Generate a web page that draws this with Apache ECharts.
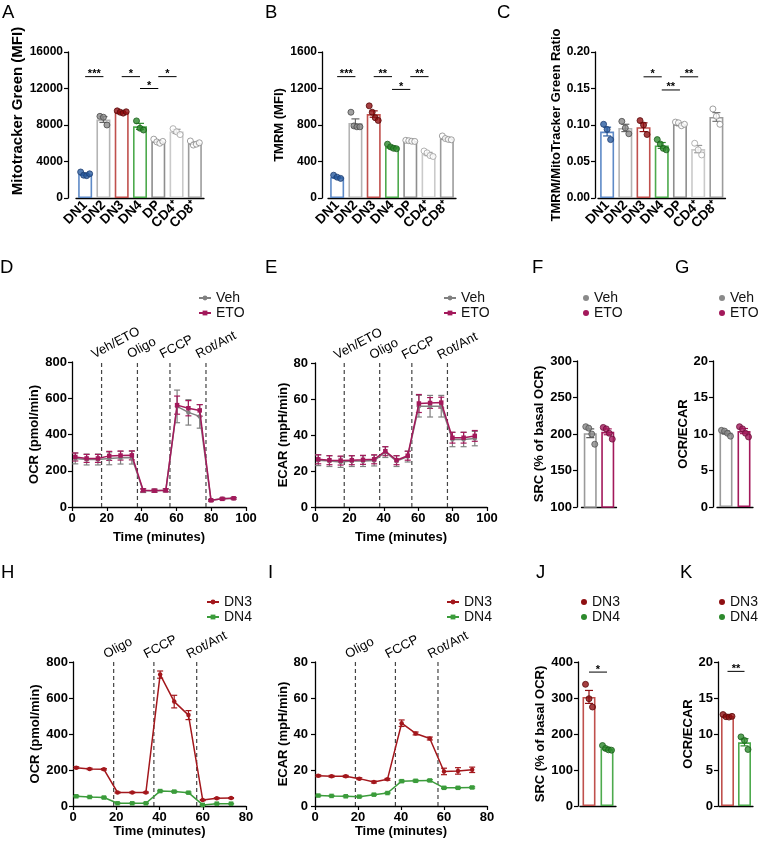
<!DOCTYPE html>
<html>
<head>
<meta charset="utf-8">
<script src="https://cdn.jsdelivr.net/npm/echarts@6/dist/echarts.min.js"></script>
<style>
  html, body { margin: 0; background: #fff; }
  #chart { width: 758px; height: 843px; }
</style>
</head>
<body>
<div id="chart"></div>
<script>
// ---- A-C: thymocyte subsets ----
const subsets = ['DN1', 'DN2', 'DN3', 'DN4', 'DP', 'CD4⁺', 'CD8⁺'];

const mtgMean = [2600, 8600, 9400, 7850, 6200, 7300, 6000];
const mtgSem = [100, 320, 70, 330, 100, 230, 120];
const mtgPts = [[2850, 2500, 2450, 2650], [8950, 8850, 8000], [9550, 9400, 9300, 9450],
  [8450, 7650, 7450], [6450, 6150, 6000, 6200], [7600, 7250, 6950], [6250, 5800, 5900, 6050]];
const mtgSig = [[0, 1, 13300, '***'], [2, 3, 13300, '*'], [3, 4, 12000, '*'], [4, 5, 13300, '*']];

const tmrmMean = [228, 822, 920, 558, 625, 482, 652];
const tmrmSem = [8, 45, 35, 12, 4, 18, 8];
const tmrmPts = [[250, 228, 215], [940, 790, 780, 780], [1010, 940, 880, 850],
  [590, 560, 545, 540], [632, 628, 622, 620], [515, 495, 465, 455], [680, 652, 642, 638]];
const tmrmSig = [[0, 1, 1330, '***'], [2, 3, 1330, '**'], [3, 4, 1190, '*'], [4, 5, 1330, '**']];

const ratioMean = [0.091, 0.096, 0.097, 0.072, 0.101, 0.067, 0.111];
const ratioSem = [0.006, 0.005, 0.006, 0.004, 0.002, 0.005, 0.006];
const ratioPts = [[0.101, 0.094, 0.080], [0.105, 0.096, 0.088], [0.106, 0.100, 0.087],
  [0.080, 0.074, 0.068, 0.066], [0.104, 0.103, 0.099, 0.101], [0.075, 0.066, 0.059], [0.122, 0.112, 0.101]];
const ratioSig = [[2, 3, 0.166, '*'], [3, 4, 0.148, '**'], [4, 5, 0.166, '**']];

// ---- D-G: Veh vs ETO ----
const etoTime = [1.9, 8.4, 14.9, 21.4, 27.9, 34.4, 40.9, 47.4, 53.9, 60.4, 66.9, 73.4, 79.9, 86.4, 92.9];
const etoInject = [17, 37.6, 56.3, 77];
const etoInjectNames = ['Veh/ETO', 'Oligo', 'FCCP', 'Rot/Ant'];
const ocrVeh = [268, 262, 262, 268, 272, 272, 90, 90, 92, 555, 522, 500, 37, 45, 48];
const ocrVehErr = [30, 30, 30, 35, 35, 35, 10, 8, 8, 90, 70, 65, 5, 5, 5];
const ocrEto = [276, 268, 268, 282, 284, 285, 92, 90, 92, 562, 545, 533, 37, 45, 48];
const ocrEtoErr = [22, 22, 22, 25, 25, 25, 8, 8, 8, 50, 42, 32, 4, 4, 4];
const ecarVeh = [26, 25.5, 25, 25.5, 25.5, 25.8, 30.5, 25.5, 28, 56, 56, 56, 37.5, 37.5, 38];
const ecarVehErr = [3, 3, 3, 3, 3, 3, 3, 3, 3, 6, 6, 6, 4, 4, 4];
const ecarEto = [26.5, 26, 25.8, 26, 26.2, 26.5, 31, 26, 28.5, 57.5, 57.8, 58, 38.5, 38.5, 39.5];
const ecarEtoErr = [2.5, 2.5, 2.5, 2.5, 2.5, 2.5, 2.5, 2.5, 2.5, 5, 3, 3, 3, 3, 3];

const vehEto = ['Veh', 'ETO'];
const srcEtoMean = [201, 203];
const srcEtoSem = [6, 4];
const srcEtoPts = [[210, 208, 200, 186], [209, 207, 201, 193]];
const oeEtoMean = [10.2, 10.4];
const oeEtoSem = [0.2, 0.35];
const oeEtoPts = [[10.5, 10.4, 10.1, 9.7], [11.0, 10.7, 10.1, 9.6]];

// ---- H-K: DN3 vs DN4 ----
const dnTime = [1.5, 7.7, 14.3, 20.6, 27.4, 33.7, 40.3, 46.8, 53.4, 60.0, 66.5, 73.1];
const dnInject = [18.8, 37.4, 57.2];
const dnInjectNames = ['Oligo', 'FCCP', 'Rot/Ant'];
const ocrDn3 = [213, 206, 204, 75, 75, 75, 730, 580, 505, 33, 43, 44];
const ocrDn3Err = [5, 4, 4, 3, 3, 3, 20, 35, 25, 3, 3, 3];
const ocrDn4 = [54, 50, 47, 15, 15, 15, 83, 80, 74, 6, 13, 13];
const ocrDn4Err = [3, 3, 3, 2, 2, 2, 4, 4, 4, 2, 2, 2];
const ecarDn3 = [16.8, 16.5, 16.5, 15.2, 13.3, 14.8, 46, 40.3, 37.5, 19.2, 19.5, 20.1];
const ecarDn3Err = [0.5, 0.5, 0.5, 0.5, 0.5, 0.5, 1.8, 0.8, 0.8, 1.8, 1.8, 1.5];
const ecarDn4 = [5.8, 5.6, 5.4, 5.2, 6.3, 7.2, 13.8, 14, 14.2, 10.1, 10.1, 10.3];
const ecarDn4Err = [0.3, 0.3, 0.3, 0.3, 0.3, 0.3, 0.5, 0.5, 0.5, 0.4, 0.4, 0.4];

const dnPair = ['DN3', 'DN4'];
const srcDnMean = [303, 159];
const srcDnSem = [18, 4];
const srcDnPts = [[338, 298, 275], [168, 160, 156, 155]];
const srcDnSig = [[0, 1, 372, '*']];
const oeDnMean = [12.5, 8.85];
const oeDnSem = [0.1, 0.5];
const oeDnPts = [[12.7, 12.4, 12.35, 12.45], [9.6, 9.1, 7.85]];
const oeDnSig = [[0, 1, 18.7, '**']];

// ---- styles ----
const SANS = '"Liberation Sans", Arial, Helvetica, sans-serif';
const GREY = '#808080', ETO = '#A3195B', RED = '#A3171C', GREEN = '#3B9C3B';

const subsetBorder = ['#5E8AC7', '#B4B4B4', '#C0504D', '#4DAA4D', '#8E8E8E', '#CACACA', '#9C9C9C'];
const subsetFill = ['#2B5DA0', '#8A8A8A', '#8E0F12', '#2D8A2D', '#FFFFFF', '#FFFFFF', '#FFFFFF'];
const subsetEdge = ['#1F3F70', '#4A4A4A', '#5A0A0A', '#1C5E1C', '#888888', '#A0A0A0', '#888888'];
const subsetErr = ['#2B5DA0', '#666666', '#8E0F12', '#2D8A2D', '#777777', '#999999', '#777777'];

const grids = [], xAxes = [], yAxes = [], series = [], legends = [];

const jitter = n => (n >= 4 ? [-4.5, -1.5, 1.5, 4.5] : [-3.5, 0, 3.5]).slice(0, n);

function yAxis(g, o) {
  return {
    gridIndex: g, type: 'value', min: o.min, max: o.max, interval: o.interval, offset: o.offset || 0,
    axisLine: { show: true, lineStyle: { color: '#000', width: 1.3 } },
    axisTick: { show: true, length: 4, lineStyle: { color: '#000', width: 1.2 } },
    splitLine: { show: false },
    axisLabel: { color: '#000', fontWeight: 'bold', fontSize: o.labelSize || 13,
      fontFamily: SANS, margin: o.margin || 6, formatter: o.fmt || (v => String(v)) },
    name: o.name, nameLocation: 'middle', nameGap: o.nameGap,
    nameTextStyle: { color: '#000', fontWeight: 'bold', fontSize: o.nameSize || 13, fontFamily: SANS,
      padding: o.namePad || 0 }
  };
}

function errorBars(g, data, colorOf, cap, z) {
  return {
    type: 'custom', xAxisIndex: g, yAxisIndex: g, z: z, silent: true, data: data,
    renderItem(params, api) {
      const x = api.value(0), m = api.value(1), e = api.value(2);
      const hi = api.coord([x, m + e]), lo = api.coord([x, m - e]);
      const style = { stroke: colorOf(params.dataIndex), lineWidth: 1.2 };
      return { type: 'group', children: [
        { type: 'line', shape: { x1: hi[0], y1: hi[1], x2: lo[0], y2: lo[1] }, style },
        { type: 'line', shape: { x1: hi[0] - cap, y1: hi[1], x2: hi[0] + cap, y2: hi[1] }, style },
        { type: 'line', shape: { x1: lo[0] - cap, y1: lo[1], x2: lo[0] + cap, y2: lo[1] }, style }
      ] };
    }
  };
}

function brackets(g, list) {
  return {
    type: 'custom', xAxisIndex: g, yAxisIndex: g, z: 5, silent: true,
    data: list.map(b => [b[0], b[2], b[1]]),
    renderItem(params, api) {
      const b = list[params.dataIndex];
      const p1 = api.coord([b[0], b[2]]), p2 = api.coord([b[1], b[2]]);
      return { type: 'group', children: [
        { type: 'line', shape: { x1: p1[0], y1: p1[1], x2: p2[0], y2: p2[1] }, style: { stroke: '#000', lineWidth: 1 } },
        { type: 'text', x: (p1[0] + p2[0]) / 2, y: p1[1] + 3,
          style: { text: b[3], align: 'center', verticalAlign: 'bottom', font: 'bold 11px ' + SANS, fill: '#000' } }
      ] };
    }
  };
}

function injections(g, times, names, top) {
  return {
    type: 'custom', xAxisIndex: g, yAxisIndex: g, z: 1, silent: true,
    data: times.map(t => [t, top]),
    renderItem(params, api) {
      const a = api.coord([api.value(0), 0]), b = api.coord([api.value(0), api.value(1)]);
      return { type: 'group', children: [
        { type: 'line', shape: { x1: a[0], y1: a[1], x2: b[0], y2: b[1] },
          style: { stroke: '#444', lineWidth: 1.2, lineDash: [4, 3] } },
        { type: 'text', x: b[0] - 6, y: b[1] - 1, rotation: 28 * Math.PI / 180,
          style: { text: names[params.dataIndex], align: 'left', verticalAlign: 'bottom', font: '13px ' + SANS, fill: '#000' } }
      ] };
    }
  };
}

function barPanel(box, o) {
  const g = grids.length;
  grids.push(Object.assign({ outerBoundsMode: 'none', containLabel: false }, box));
  xAxes.push({
    gridIndex: g, type: 'category', data: o.cats,
    axisLine: { lineStyle: { color: '#000', width: 1.3 } },
    axisTick: { alignWithLabel: true, length: 4, lineStyle: { color: '#000', width: 1.2 } },
    axisLabel: o.rotateLabels
      ? { interval: 0, rotate: 45, color: '#000', fontWeight: 'bold', fontSize: 13.5, fontFamily: SANS, margin: 5 }
      : { show: false }
  });
  yAxes.push(yAxis(g, o.y));
  series.push({
    type: 'bar', xAxisIndex: g, yAxisIndex: g, barWidth: o.barWidth, z: 2, silent: true,
    data: o.mean.map((m, i) => ({ value: m, itemStyle: { color: '#fff', borderColor: o.border[i], borderWidth: 1.6 } }))
  });
  series.push(errorBars(g, o.mean.map((m, i) => [i, m, o.sem[i]]), i => o.err[i], 4, 3));
  const dots = [];
  o.pts.forEach((arr, i) => {
    const off = jitter(arr.length);
    arr.forEach((v, j) => dots.push({
      value: [i, v], symbolOffset: [off[j], 0],
      itemStyle: { color: o.fill[i], borderColor: o.edge[i], borderWidth: 1 }
    }));
  });
  series.push({ type: 'scatter', xAxisIndex: g, yAxisIndex: g, symbolSize: 6, z: 4, silent: true, data: dots });
  if (o.sig) series.push(brackets(g, o.sig));
  return g;
}

function linePanel(box, o) {
  const g = grids.length;
  grids.push(Object.assign({ outerBoundsMode: 'none', containLabel: false }, box));
  xAxes.push({
    gridIndex: g, type: 'value', min: 0, max: o.xMax, interval: 20,
    axisLine: { show: true, lineStyle: { color: '#000', width: 1.3 } },
    axisTick: { show: true, length: 4, lineStyle: { color: '#000', width: 1.2 } },
    splitLine: { show: false },
    axisLabel: { color: '#000', fontWeight: 'bold', fontSize: 13, fontFamily: SANS, margin: 5 },
    name: 'Time (minutes)', nameLocation: 'middle', nameGap: o.xNameGap,
    nameTextStyle: { color: '#000', fontWeight: 'bold', fontSize: 13, fontFamily: SANS }
  });
  yAxes.push(yAxis(g, o.y));
  series.push(injections(g, o.inject, o.injectNames, o.y.max));
  o.lines.forEach((ln, k) => {
    series.push(errorBars(g, o.time.map((t, i) => [t, ln.values[i], ln.err[i]]), () => ln.color, 3, 3 + k));
    series.push({
      type: 'line', name: ln.name, xAxisIndex: g, yAxisIndex: g, z: 4 + k, silent: true,
      data: o.time.map((t, i) => [t, ln.values[i]]),
      symbol: ln.symbol, symbolSize: 4.5, showSymbol: true,
      lineStyle: { color: ln.color, width: 1.5 }, itemStyle: { color: ln.color }
    });
  });
  return g;
}

// ---- top row ----
barPanel({ left: 76, top: 52, width: 128, height: 146 }, {
  cats: subsets, mean: mtgMean, sem: mtgSem, pts: mtgPts, sig: mtgSig, rotateLabels: true, barWidth: 14,
  border: subsetBorder, fill: subsetFill, edge: subsetEdge, err: subsetErr,
  y: { min: 0, max: 16000, interval: 4000, offset: 8, labelSize: 12, margin: 5,
    name: 'Mitotracker Green (MFI)', nameGap: 30, nameSize: 15, namePad: [0, 0, 0, 28] }
});
barPanel({ left: 328, top: 52, width: 128, height: 146 }, {
  cats: subsets, mean: tmrmMean, sem: tmrmSem, pts: tmrmPts, sig: tmrmSig, rotateLabels: true, barWidth: 14,
  border: subsetBorder, fill: subsetFill, edge: subsetEdge, err: subsetErr,
  y: { min: 0, max: 1600, interval: 400, offset: 6, labelSize: 12, margin: 5,
    name: 'TMRM (MFI)', nameGap: 25, nameSize: 13 }
});
barPanel({ left: 598, top: 52, width: 127.5, height: 146 }, {
  cats: subsets, mean: ratioMean, sem: ratioSem, pts: ratioPts, sig: ratioSig, rotateLabels: true, barWidth: 14,
  border: subsetBorder, fill: subsetFill, edge: subsetEdge, err: subsetErr,
  y: { min: 0, max: 0.2, interval: 0.05, offset: 3, labelSize: 12, margin: 5,
    fmt: v => v.toFixed(2), name: 'TMRM/MitoTracker Green Ratio', nameGap: 28, nameSize: 13 }
});

// ---- middle row ----
linePanel({ left: 72, top: 362, width: 174, height: 145 }, {
  xMax: 100, xNameGap: 24, time: etoTime, inject: etoInject, injectNames: etoInjectNames,
  y: { min: 0, max: 800, interval: 200, name: 'OCR (pmol/min)', nameGap: 26, margin: 5 },
  lines: [
    { name: 'Veh', values: ocrVeh, err: ocrVehErr, color: GREY, symbol: 'circle' },
    { name: 'ETO', values: ocrEto, err: ocrEtoErr, color: ETO, symbol: 'rect' }
  ]
});
linePanel({ left: 315, top: 363, width: 172, height: 144 }, {
  xMax: 100, xNameGap: 24, time: etoTime, inject: etoInject, injectNames: etoInjectNames,
  y: { min: 0, max: 80, interval: 20, name: 'ECAR (mpH/min)', nameGap: 18, margin: 7 },
  lines: [
    { name: 'Veh', values: ecarVeh, err: ecarVehErr, color: GREY, symbol: 'circle' },
    { name: 'ETO', values: ecarEto, err: ecarEtoErr, color: ETO, symbol: 'rect' }
  ]
});
barPanel({ left: 581.5, top: 361, width: 35, height: 146 }, {
  cats: vehEto, mean: srcEtoMean, sem: srcEtoSem, pts: srcEtoPts, barWidth: 13,
  border: ['#9A9A9A', ETO], fill: ['#8A8A8A', ETO], edge: ['#555555', '#6A0F3A'], err: ['#555555', ETO],
  y: { min: 100, max: 300, interval: 50, offset: 4.5, name: 'SRC (% of basal OCR)', nameGap: 30, margin: 5 }
});
barPanel({ left: 717, top: 361, width: 36, height: 146 }, {
  cats: vehEto, mean: oeEtoMean, sem: oeEtoSem, pts: oeEtoPts, barWidth: 13,
  border: ['#9A9A9A', ETO], fill: ['#8A8A8A', ETO], edge: ['#555555', '#6A0F3A'], err: ['#555555', ETO],
  y: { min: 0, max: 20, interval: 5, offset: 4, name: 'OCR/ECAR', nameGap: 21, margin: 5 }
});

// ---- bottom row ----
linePanel({ left: 73, top: 662, width: 173, height: 144 }, {
  xMax: 80, xNameGap: 16, time: dnTime, inject: dnInject, injectNames: dnInjectNames,
  y: { min: 0, max: 800, interval: 200, name: 'OCR (pmol/min)', nameGap: 27, margin: 5 },
  lines: [
    { name: 'DN3', values: ocrDn3, err: ocrDn3Err, color: RED, symbol: 'circle' },
    { name: 'DN4', values: ocrDn4, err: ocrDn4Err, color: GREEN, symbol: 'rect' }
  ]
});
linePanel({ left: 315, top: 662, width: 172, height: 144 }, {
  xMax: 80, xNameGap: 16, time: dnTime, inject: dnInject, injectNames: dnInjectNames,
  y: { min: 0, max: 80, interval: 20, name: 'ECAR (mpH/min)', nameGap: 17, margin: 7 },
  lines: [
    { name: 'DN3', values: ecarDn3, err: ecarDn3Err, color: RED, symbol: 'circle' },
    { name: 'DN4', values: ecarDn4, err: ecarDn4Err, color: GREEN, symbol: 'rect' }
  ]
});
barPanel({ left: 580, top: 662, width: 36, height: 144 }, {
  cats: dnPair, mean: srcDnMean, sem: srcDnSem, pts: srcDnPts, sig: srcDnSig, barWidth: 13,
  border: ['#C0504D', '#4DAA4D'], fill: ['#8E0F12', '#2D8A2D'], edge: ['#5A0A0A', '#1C5E1C'], err: ['#8E0F12', '#2D8A2D'],
  y: { min: 0, max: 400, interval: 100, offset: 2, name: 'SRC (% of basal OCR)', nameGap: 31, margin: 5 }
});
barPanel({ left: 719, top: 662, width: 34, height: 144 }, {
  cats: dnPair, mean: oeDnMean, sem: oeDnSem, pts: oeDnPts, sig: oeDnSig, barWidth: 13,
  border: ['#C0504D', '#4DAA4D'], fill: ['#8E0F12', '#2D8A2D'], edge: ['#5A0A0A', '#1C5E1C'], err: ['#8E0F12', '#2D8A2D'],
  y: { min: 0, max: 20, interval: 5, offset: 1, name: 'OCR/ECAR', nameGap: 23, margin: 5 }
});

// ---- legends ----
const legendText = { fontSize: 14, fontFamily: SANS, color: '#111' };
function lineLegend(left, top, names) {
  legends.push({ left, top, orient: 'vertical', itemGap: 1, itemWidth: 12, itemHeight: 6, itemTextGap: 5,
    selectedMode: false, textStyle: legendText, data: names });
}
function dotLegend(left, top, names, colors) {
  legends.push({ left, top, orient: 'vertical', itemGap: 1, itemWidth: 6, itemHeight: 6, itemTextGap: 5,
    selectedMode: false, textStyle: legendText,
    data: names.map((n, i) => ({ name: n, icon: 'circle', itemStyle: { color: colors[i], borderWidth: 0 } })) });
}
lineLegend(193, 286, ['Veh', 'ETO']);
lineLegend(438, 286, ['Veh', 'ETO']);
dotLegend(578, 286, ['Veh', 'ETO'], ['#8A8A8A', ETO]);
dotLegend(714, 286, ['Veh', 'ETO'], ['#8A8A8A', ETO]);
lineLegend(201, 590, ['DN3', 'DN4']);
lineLegend(441, 590, ['DN3', 'DN4']);
dotLegend(576, 590, ['DN3', 'DN4'], ['#8E0F12', '#2D8A2D']);
dotLegend(714, 590, ['DN3', 'DN4'], ['#8E0F12', '#2D8A2D']);

// ---- panel letters ----
const letters = [['A', 2, 3.5], ['B', 265, 3.5], ['C', 497, 3.5], ['D', 0, 258.5], ['E', 265, 258.5],
  ['F', 532, 258.5], ['G', 675, 258.5], ['H', 1, 563.5], ['I', 268, 563.5], ['J', 536, 563.5], ['K', 680, 563.5]];

const chart = echarts.init(document.getElementById('chart'));
chart.setOption({
  animation: false,
  backgroundColor: '#fff',
  grid: grids,
  xAxis: xAxes,
  yAxis: yAxes,
  legend: legends,
  series: series,
  graphic: letters.map(([t, x, y]) => ({
    type: 'text', x, y, silent: true,
    style: { text: t, font: '18.5px ' + SANS, fill: '#000', verticalAlign: 'top' }
  }))
});
</script>
</body>
</html>
